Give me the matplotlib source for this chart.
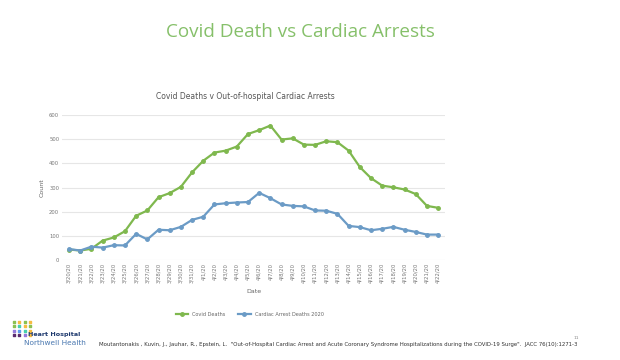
import matplotlib.pyplot as plt
import numpy as np

dates = ['3/20/20', '3/21/20', '3/22/20', '3/23/20', '3/24/20', '3/25/20', '3/26/20',
         '3/27/20', '3/28/20', '3/29/20', '3/30/20', '3/31/20', '4/1/20', '4/2/20',
         '4/3/20', '4/4/20', '4/5/20', '4/6/20', '4/7/20', '4/8/20', '4/9/20', '4/10/20',
         '4/11/20', '4/12/20', '4/13/20', '4/14/20', '4/15/20', '4/16/20', '4/17/20',
         '4/18/20', '4/19/20', '4/20/20', '4/21/20', '4/22/20']
covid_deaths = [43, 39, 46, 80, 93, 119, 183, 205, 260, 277, 303, 363, 411, 445, 453,
                470, 522, 538, 557, 499, 504, 478, 477, 492, 488, 453, 385, 339, 308,
                301, 292, 273, 224, 216]
cardiac_arrests = [45, 39, 55, 51, 61, 60, 108, 85, 125, 123, 137, 166, 179, 230, 235,
                   238, 240, 278, 256, 230, 224, 222, 205, 204, 191, 141, 136, 123, 129,
                   137, 125, 116, 105, 105]

green = '#7fb84e'
blue = '#6b9bc6'
x = np.arange(len(dates))

fig = plt.figure(figsize=(6.2, 3.6), dpi=100)
fig.patch.set_facecolor('white')

fig.text(0.484, 0.91, 'Covid Death vs Cardiac Arrests', ha='center', va='center',
         fontsize=13.6, color='#86c06a', family='Open Sans')

ax = fig.add_axes([0.1, 0.278, 0.618, 0.402])
ax.plot(x, covid_deaths, color=green, lw=1.6, marker='o', ms=2.5, label='Covid Deaths')
ax.plot(x, cardiac_arrests, color=blue, lw=1.6, marker='o', ms=2.5,
        label='Cardiac Arrest Deaths 2020')
ax.set_xlim(-0.63, len(dates) - 0.37)
ax.set_ylim(0, 600)
ax.set_yticks(range(0, 601, 100))
ax.set_xticks(x)
ax.set_xticklabels(dates, rotation=90, fontsize=3.8, color='#777777')
ax.tick_params(axis='y', labelsize=3.8, labelcolor='#777777', length=0, pad=2)
ax.tick_params(axis='x', length=0, pad=2)
ax.grid(axis='y', color='#e6e6e6', lw=0.8)
ax.set_axisbelow(True)
for s in ax.spines.values():
    s.set_visible(False)
ax.set_ylabel('Count', fontsize=4.5, color='#666666', labelpad=3)
ax.set_xlabel('Date', fontsize=4.5, color='#666666', labelpad=4)
ax.set_title('Covid Deaths v Out-of-hospital Cardiac Arrests', fontsize=5.5,
             color='#555555', pad=12, x=0.479)
ax.legend(loc='upper center', bbox_to_anchor=(0.49, -0.33), ncol=2, frameon=False,
          fontsize=3.6, labelcolor='#666666', handlelength=2.5, columnspacing=2.5)

# logo
logo = fig.add_axes([0.018, 0.065, 0.035, 0.045])
logo_colors = [['#8cc152', '#f6bb42', '#8cc152', '#f6bb42'],
               ['#8cc152', '#48cfad', '#f6bb42', '#8cc152'],
               ['#967adc', '#5d9cec', '#48cfad', '#f6bb42'],
               ['#5b2c6f', '#5b2c6f', '#967adc', '#f6bb42']]
for r in range(4):
    for c in range(4):
        logo.scatter(c, -r, s=2.5, color=logo_colors[r][c], marker='s')
logo.set_xlim(-0.5, 3.5)
logo.set_ylim(-3.5, 0.5)
logo.axis('off')
fig.text(0.045, 0.07, 'Heart Hospital', fontsize=4.6, fontweight='bold',
         color='#1f3a6e', va='center')
fig.text(0.039, 0.047, 'Northwell Health', fontsize=5.3, color='#4a78b0', va='center')
fig.text(0.16, 0.042, 'Moutantonakis , Kuvin, J., Jauhar, R., Epstein, L.  "Out-of-Hospital '
         'Cardiac Arrest and Acute Coronary Syndrome Hospitalizations during the COVID-19 Surge".  '
         'JACC 76(10):1271-3', fontsize=3.9, color='#333333', va='center')
fig.text(0.925, 0.062, '11', fontsize=3.2, color='#888888', va='center')

fig.savefig('out.png', dpi=100, facecolor='white')
